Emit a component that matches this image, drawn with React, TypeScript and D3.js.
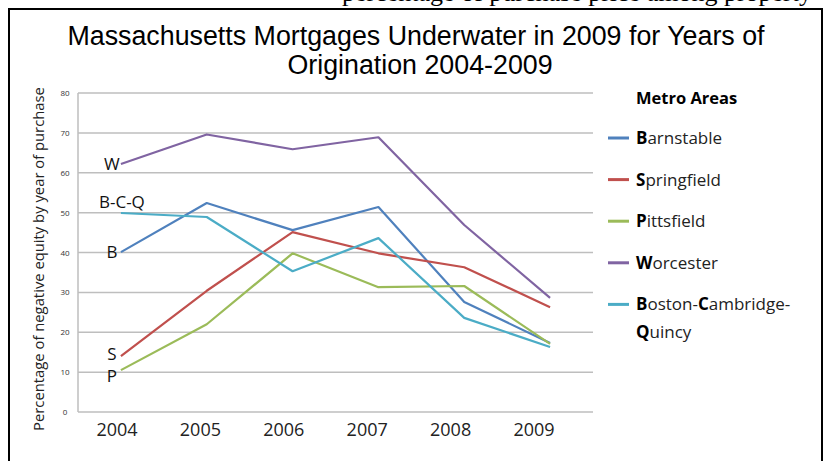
import React from 'react';
import * as d3 from 'd3';

const YEARS = ['2004', '2005', '2006', '2007', '2008', '2009'];
const Y_TICKS = [0, 10, 20, 30, 40, 50, 60, 70, 80];

const BARNSTABLE = [40.1, 52.4, 45.6, 51.4, 27.6, 17.3];
const SPRINGFIELD = [14.0, 30.4, 45.1, 39.8, 36.3, 26.3];
const PITTSFIELD = [10.5, 22.0, 39.8, 31.3, 31.6, 17.1];
const WORCESTER = [62.2, 69.6, 65.9, 68.9, 46.9, 28.6];
const BOSTON = [49.9, 48.9, 35.3, 43.6, 23.6, 16.3];

const SERIES = [
  { key: 'B', bold: 'B', rest: 'arnstable', values: BARNSTABLE, color: '#4F81BD' },
  { key: 'S', bold: 'S', rest: 'pringfield', values: SPRINGFIELD, color: '#C0504D' },
  { key: 'P', bold: 'P', rest: 'ittsfield', values: PITTSFIELD, color: '#9BBB59' },
  { key: 'W', bold: 'W', rest: 'orcester', values: WORCESTER, color: '#8064A2' },
  { key: 'BCQ', bold: 'B', rest: 'oston-', values: BOSTON, color: '#4BACC6' },
];

// start-of-line labels: [text, series index, dy offset]
const START_LABELS: [string, number, number][] = [
  ['W', 3, 6],
  ['B-C-Q', 4, -5],
  ['B', 0, 6],
  ['S', 1, 4],
  ['P', 2, 12],
];

const App: React.FC = () => {
  const width = 827;
  const height = 461;
  const plot = { left: 78, right: 593, top: 93, bottom: 412 };

  const x = d3.scaleBand<string>().domain(YEARS).range([plot.left, plot.right]);
  const xLabel = d3.scalePoint<string>().domain(YEARS).range([117, 534]);
  const y = d3.scaleLinear().domain([0, 80]).range([plot.bottom, plot.top]);
  const cx = (yr: string) => (x(yr) as number) + x.bandwidth() / 2;

  const line = d3.line<number>()
    .x((_, i) => cx(YEARS[i]))
    .y(d => y(d));

  const sans = '"Open Sans", "DejaVu Sans", sans-serif';

  return (
    <svg width={width} height={height} style={{ position: 'absolute', left: 0, top: 0, background: '#fff' }}>
      {/* cut-off line of the page above */}
      <text x={812} y={1} textAnchor="end" fontFamily='"Liberation Serif", serif' fontSize={26} fill="#000">
        percentage of purchase price among property
      </text>
      <rect x={9} y={9} width={813} height={470} fill="#fff" stroke="#000" strokeWidth={2} />

      <text x={416} y={45} textAnchor="middle" fontFamily='"Liberation Sans", Arial, sans-serif' fontSize={26.8} fill="#000">
        Massachusetts Mortgages Underwater in 2009 for Years of
      </text>
      <text x={420} y={74} textAnchor="middle" fontFamily='"Liberation Sans", Arial, sans-serif' fontSize={26.8} fill="#000">
        Origination 2004-2009
      </text>

      {/* gridlines */}
      {Y_TICKS.map(t => (
        <g key={t}>
          <line x1={plot.left} x2={plot.right} y1={y(t)} y2={y(t)} stroke="#BEBEBE" strokeWidth={1.5} />
          <text x={65} y={y(t) + 3} textAnchor="middle" fontFamily={sans} fontSize={8} fill="#333">{t}</text>
        </g>
      ))}
      <line x1={plot.left} x2={plot.left} y1={plot.top} y2={plot.bottom} stroke="#BEBEBE" strokeWidth={1.5} />

      <text
        transform={`translate(44, 259) rotate(-90)`}
        textAnchor="middle"
        fontFamily={sans}
        fontSize={14.8}
        fill="#222"
      >
        Percentage of negative equity by year of purchase
      </text>

      {YEARS.map(yr => (
        <text key={yr} x={xLabel(yr)} y={436} textAnchor="middle" fontFamily={sans} fontSize={18} fill="#222">{yr}</text>
      ))}

      {SERIES.map(s => (
        <path key={s.key} d={line(s.values) || ''} fill="none" stroke={s.color} strokeWidth={2.2} strokeLinejoin="round" />
      ))}

      {START_LABELS.map(([txt, si, dy]) => (
        <text
          key={txt}
          x={cx(YEARS[0]) - (txt.length > 1 ? -1 : 9)}
          y={y(SERIES[si].values[0]) + dy}
          textAnchor="middle"
          fontFamily={sans}
          fontSize={17}
          fill="#111"
        >
          {txt}
        </text>
      ))}

      {/* legend */}
      <text x={636} y={104} fontFamily={sans} fontSize={16.5} fontWeight="bold" fill="#000">Metro Areas</text>
      {SERIES.map((s, i) => {
        const ly = 138 + i * 41.6;
        return (
          <g key={s.key}>
            <line x1={608} x2={629} y1={ly} y2={ly} stroke={s.color} strokeWidth={3} />
            <text x={636} y={ly + 6} fontFamily={sans} fontSize={17} fill="#222">
              <tspan fontWeight="bold" fill="#000">{s.bold}</tspan>
              {s.rest}
              {s.key === 'BCQ' ? (
                <>
                  <tspan fontWeight="bold" fill="#000">C</tspan>ambridge-
                </>
              ) : null}
            </text>
            {s.key === 'BCQ' ? (
              <text x={636} y={ly + 34} fontFamily={sans} fontSize={17} fill="#222">
                <tspan fontWeight="bold" fill="#000">Q</tspan>uincy
              </text>
            ) : null}
          </g>
        );
      })}
    </svg>
  );
};

export default App;
